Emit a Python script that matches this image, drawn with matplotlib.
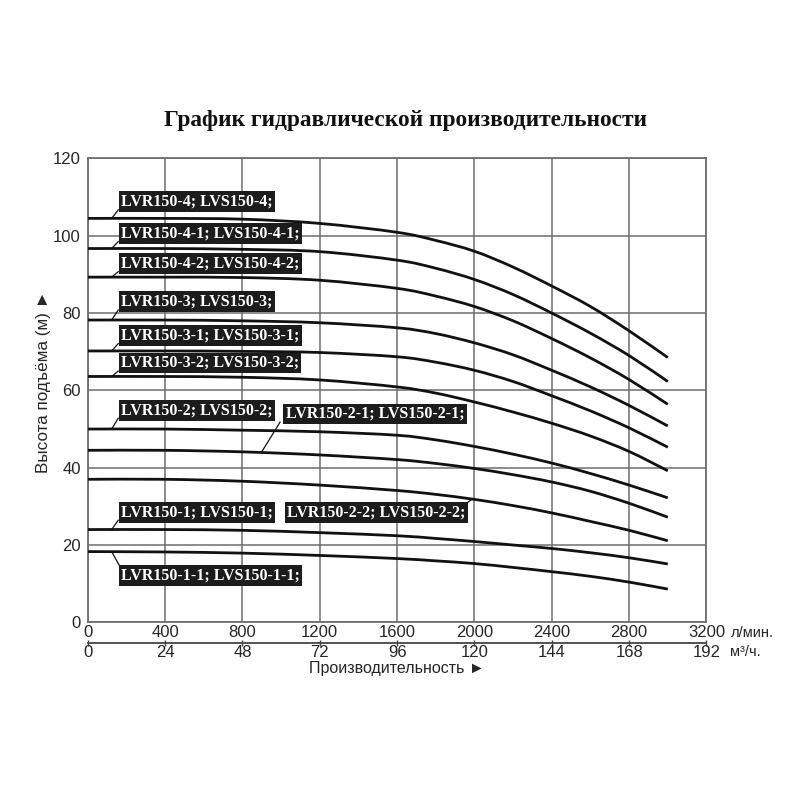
import matplotlib
matplotlib.use("Agg")
import matplotlib.pyplot as plt
from matplotlib.path import Path
from matplotlib.patches import PathPatch

# ---------------- data ----------------
flow = [0, 400, 800, 1200, 1600, 1800, 2000, 2200, 2400, 2600, 2800, 3000]  # l/min

models = [
    "LVR150-4; LVS150-4;",
    "LVR150-4-1; LVS150-4-1;",
    "LVR150-4-2; LVS150-4-2;",
    "LVR150-3; LVS150-3;",
    "LVR150-3-1; LVS150-3-1;",
    "LVR150-3-2; LVS150-3-2;",
    "LVR150-2; LVS150-2;",
    "LVR150-2-1; LVS150-2-1;",
    "LVR150-2-2; LVS150-2-2;",
    "LVR150-1; LVS150-1;",
    "LVR150-1-1; LVS150-1-1;",
]

head_4   = [104.5, 104.5, 104.3, 103.2, 100.9, 98.8, 96.0, 91.9, 87.0, 81.7, 75.4, 68.5]
head_4_1 = [96.7, 96.7, 96.5, 95.9, 93.7, 91.6, 88.7, 84.8, 80.0, 74.8, 69.0, 62.3]
head_4_2 = [89.3, 89.3, 89.2, 88.5, 86.4, 84.4, 81.7, 78.0, 73.4, 68.4, 62.8, 56.4]
head_3   = [78.2, 78.2, 78.0, 77.5, 76.2, 74.7, 72.3, 69.2, 65.2, 60.9, 56.1, 50.8]
head_3_1 = [70.2, 70.2, 70.1, 69.8, 68.7, 67.3, 65.2, 62.3, 58.6, 54.7, 50.3, 45.3]
head_3_2 = [63.6, 63.6, 63.4, 62.7, 60.9, 59.3, 57.0, 54.4, 51.5, 48.2, 44.2, 39.2]
head_2   = [50.0, 50.0, 49.7, 49.3, 48.4, 47.2, 45.5, 43.5, 41.2, 38.5, 35.5, 32.2]
head_2_1 = [44.5, 44.5, 44.1, 43.3, 42.1, 41.1, 39.8, 38.2, 36.3, 33.9, 30.8, 27.2]
head_2_2 = [37.0, 37.0, 36.5, 35.5, 34.1, 33.1, 31.8, 30.2, 28.3, 26.1, 23.8, 21.1]
head_1   = [24.0, 24.0, 23.8, 23.2, 22.4, 21.7, 20.9, 20.0, 19.1, 18.0, 16.7, 15.1]
head_1_1 = [18.3, 18.2, 17.9, 17.3, 16.5, 15.9, 15.2, 14.2, 13.1, 11.9, 10.4, 8.6]

heads = [head_4, head_4_1, head_4_2, head_3, head_3_1, head_3_2,
         head_2, head_2_1, head_2_2, head_1, head_1_1]

x_ticks = [0, 400, 800, 1200, 1600, 2000, 2400, 2800, 3200]
x2_ticks = [0, 24, 48, 72, 96, 120, 144, 168, 192]
y_ticks = [0, 20, 40, 60, 80, 100, 120]

title = "График гидравлической производительности"
ylabel = "Высота подъёма (м) ►"
xlabel = "Производительность ►"
unit1 = "л/мин."
unit2 = "м³/ч."

# ---------------- layout (label anchors in data coords) ----------------
# (text x, text y center, leader x0, y0, x1, y1)
label_layout = [
    (172, 108.8, 124, 104.5, 158, 106.7),
    (172, 100.6, 124, 96.7, 158, 98.5),
    (172, 92.8, 124, 89.3, 158, 90.7),
    (172, 82.9, 124, 78.2, 158, 80.8),
    (172, 74.2, 124, 70.2, 158, 72.1),
    (172, 67.1, 124, 63.6, 158, 65.0),
    (172, 54.9, 124, 50.0, 158, 52.8),
    (1025, 53.9, 900, 44.1, 995, 51.8),
    (1033, 28.5, 1955, 30.6, 1985, 31.8),
    (172, 28.5, 124, 24.0, 158, 26.4),
    (172, 12.2, 124, 18.3, 165, 14.6),
]

GRID = "#6e6e6e"
TXT = "#262626"


def smooth_path(xs, ys):
    """Bezier path passing through the given points (Catmull-Rom tangents)."""
    pts = list(zip(xs, ys))
    n = len(pts)
    verts = [pts[0]]
    codes = [Path.MOVETO]
    for i in range(n - 1):
        p0 = pts[i - 1] if i > 0 else pts[i]
        p1 = pts[i]
        p2 = pts[i + 1]
        p3 = pts[i + 2] if i + 2 < n else pts[i + 1]
        c1 = (p1[0] + (p2[0] - p0[0]) / 6.0, p1[1] + (p2[1] - p0[1]) / 6.0)
        c2 = (p2[0] - (p3[0] - p1[0]) / 6.0, p2[1] - (p3[1] - p1[1]) / 6.0)
        verts += [c1, c2, p2]
        codes += [Path.CURVE4, Path.CURVE4, Path.CURVE4]
    return Path(verts, codes)


fig = plt.figure(figsize=(8, 8), dpi=100)
ax = fig.add_axes([0.1096, 0.2221, 0.7735, 0.5798])

sans = ["Liberation Sans", "DejaVu Sans"]
serif = ["Liberation Serif", "DejaVu Serif"]

ax.set_xlim(0, 3200)
ax.set_ylim(0, 120)
ax.set_xticks(x_ticks)
ax.set_yticks(y_ticks)
ax.set_xticklabels([str(v) for v in x_ticks], family=sans, fontsize=12, color=TXT)
ax.set_yticklabels([str(v) for v in y_ticks], family=sans, fontsize=12, color=TXT)
ax.tick_params(axis="both", length=0)
ax.tick_params(axis="x", pad=2)
ax.tick_params(axis="y", pad=5)
ax.grid(True, color=GRID, linewidth=1.1)
ax.set_axisbelow(True)
for s in ax.spines.values():
    s.set_color(GRID)
    s.set_linewidth(1.3)

for h in heads:
    patch = PathPatch(smooth_path(flow, h), facecolor="none", edgecolor="#111111",
                      linewidth=2.0, capstyle="butt", zorder=3)
    ax.add_patch(patch)

for name, (tx, ty, lx0, ly0, lx1, ly1) in zip(models, label_layout):
    ax.plot([lx0, lx1], [ly0, ly1], color="#111111", linewidth=0.9, zorder=3)
    ax.text(tx, ty, name, ha="left", va="center", color="white",
            family=serif, fontweight="bold", fontsize=11.5, zorder=5,
            bbox=dict(boxstyle="square,pad=0.15", facecolor="#1c1c1c", edgecolor="none"))

# secondary flow axis (m3/h)
sec = ax.secondary_xaxis(-0.0436, functions=(lambda x: x * 0.06, lambda x: x / 0.06))
sec.set_xticks(x2_ticks)
sec.set_xticklabels([str(v) for v in x2_ticks], family=sans, fontsize=12, color=TXT)
sec.tick_params(axis="x", direction="inout", length=4, width=1.0, color="#444444", pad=0)
sec.spines["bottom"].set_color("#444444")
sec.spines["bottom"].set_linewidth(1.3)

fig.text(731 / 800, 1 - 633 / 800, unit1, family=sans, fontsize=10.5, ha="left", va="center", color=TXT)
fig.text(730 / 800, 1 - 652 / 800, unit2, family=sans, fontsize=10.5, ha="left", va="center", color=TXT)

fig.text(397 / 800, 1 - 668 / 800, xlabel, family=sans, fontsize=11.5, ha="center", va="center", color=TXT)
fig.text(43.3 / 800, 1 - 381.7 / 800, ylabel, family=sans, fontsize=12.3, ha="center", va="center",
         rotation=90, color=TXT)

fig.text(405 / 800, 1 - 125.7 / 800, title, family=serif, fontweight="bold", fontsize=16.8,
         ha="center", va="baseline", color="#111111")

fig.savefig("out.png", dpi=100, facecolor="white")
